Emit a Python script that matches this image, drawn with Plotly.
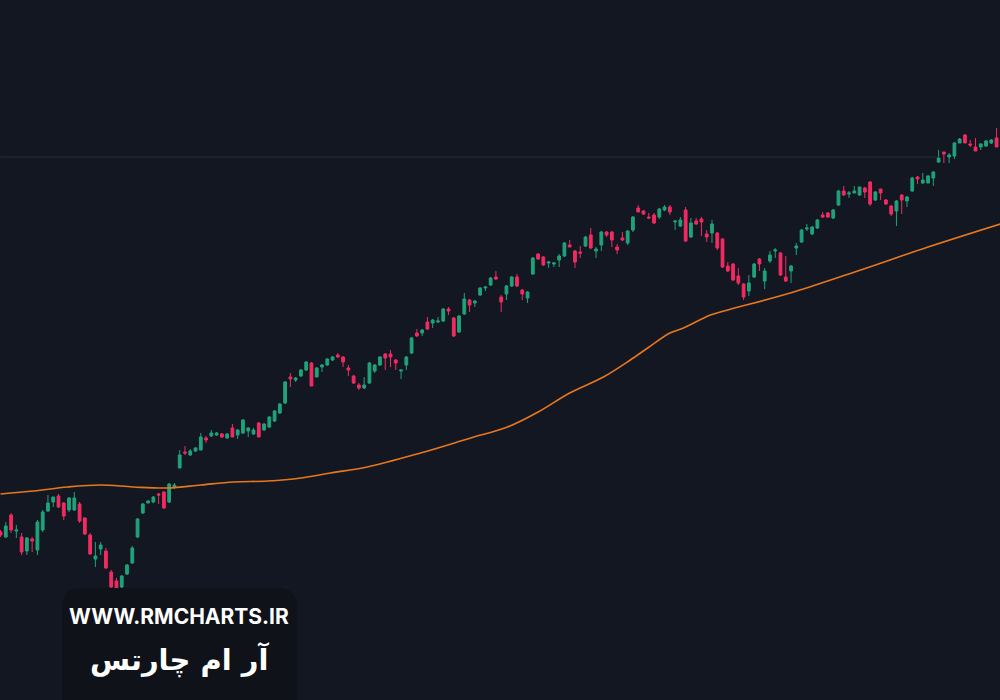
import plotly.graph_objects as go

# ---- data (arbitrary price units) ----
opens = [168,163,185,169,163,149,161,150,170,189,198,204,197,190,190,196,182,165,141,151,
         149,128,119,113,126,137,163,187,197,198,206,208,198,213,232,248,245,249,250,262,
         264,265,266,262,272,265,267,269,266,277,270,273,279,287,297,323,320,324,330,337,
         323,333,335,340,345,343,332,324,315,312,317,329,335,346,346,340,329,335,347,367,
         367,378,377,378,379,391,382,368,386,400,397,405,412,415,423,403,406,414,423,410,
         402,426,446,443,437,436,440,444,455,449,448,454,465,449,455,468,468,453,462,457,
         470,492,489,483,485,483,490,493,478,474,490,463,479,481,466,467,467,461,434,436,
         424,416,409,423,441,419,439,449,447,423,429,452,458,471,466,472,485,487,482,495,
         509,506,507,505,512,518,500,511,500,494,489,505,499,509,523,517,517,522,538,548,
         543,544,557,565,556,553,553,554,557,562]
highs = [170,178,187,175,167,163,163,180,190,205,203,206,198,203,208,198,183,167,158,158,
         152,130,122,125,136,154,182,197,200,204,207,209,217,217,250,254,251,253,267,264,
         270,268,267,267,276,271,281,273,272,278,277,284,290,297,319,327,323,331,339,338,
         333,336,342,344,347,344,335,325,317,323,338,336,344,347,350,341,330,344,363,371,
         371,383,381,383,392,393,383,385,407,401,400,413,414,423,429,405,415,424,426,411,
         409,443,447,444,439,438,446,458,460,450,454,464,472,453,469,469,469,456,468,470,
         484,495,490,487,487,492,495,495,479,483,493,482,482,483,470,480,468,462,438,437,
         432,417,425,437,442,432,449,452,448,444,435,457,471,476,474,481,488,488,491,510,
         514,509,514,513,513,519,509,511,501,495,500,506,504,523,524,527,525,529,550,548,
         547,558,562,566,560,562,557,560,561,572]
lows = [163,162,167,162,145,145,148,145,168,188,193,192,180,188,189,177,165,145,133,145,
        131,111,105,112,125,136,162,186,197,197,196,191,197,211,232,245,244,248,250,257,
        263,264,262,261,263,261,266,263,265,263,269,272,278,286,296,313,318,323,329,314,
        323,328,334,339,342,333,324,316,310,311,316,327,334,330,333,330,321,330,346,363,
        364,370,372,377,378,385,363,367,385,388,393,404,409,414,420,388,400,413,413,400,
        397,425,440,434,432,433,433,443,453,432,442,453,451,442,449,463,453,446,459,455,
        468,488,485,481,476,481,489,485,470,473,458,462,475,464,458,457,450,432,428,419,
        415,400,404,422,429,411,437,442,424,418,417,445,457,469,465,471,482,482,481,494,
        504,502,507,504,502,494,499,500,495,484,474,486,493,508,516,516,517,514,537,537,
        537,541,557,557,553,549,550,553,556,553]
closes = [165,174,170,170,148,162,159,178,188,197,203,193,184,202,202,179,166,146,144,155,
          132,113,111,124,135,152,181,196,199,203,205,192,216,215,245,247,249,252,263,260,
          267,267,263,266,263,270,280,272,270,263,276,283,289,296,318,321,322,330,338,314,
          332,335,341,343,343,338,330,317,312,315,337,335,343,342,343,337,330,343,362,364,
          370,371,380,379,391,389,364,384,401,395,399,412,413,422,421,398,414,423,414,406,
          408,442,441,435,438,437,444,457,453,438,447,463,452,451,468,465,460,450,460,469,
          483,488,486,482,477,491,493,488,479,480,459,477,476,478,463,476,452,433,429,420,
          417,403,417,436,436,429,445,450,425,419,434,454,470,472,473,480,483,483,490,509,
          505,507,509,513,508,496,508,507,496,486,499,500,503,522,521,520,524,528,542,546,
          545,557,561,557,555,549,556,559,560,553]

# 200-period average, read at a few candle positions
ma_index = [0, 6.3, 12.7, 19, 25.2, 31.7, 38, 44.2, 50.7, 57, 62.6, 69.6, 79.7, 89.2,
            96.2, 102, 108, 114.4, 119.5, 122.8, 127, 129.6, 134.7, 138, 150.5, 163.2,
            176, 189.7]
ma_values = [206, 209, 213, 215, 213, 212, 215, 218, 219, 222, 227, 233, 247, 262,
             273, 288, 307, 323, 340, 352, 367, 372, 385, 390, 408, 430, 453, 476]

level_price = 543
level_span = [0, 178]

candle_index = list(range(len(opens)))

BG = "#131722"
UP = "#1fa37a"
DOWN = "#f22b62"

fig = go.Figure()

fig.add_trace(go.Scatter(
    x=level_span, y=[level_price, level_price], mode="lines",
    line=dict(color="#282c3a", width=1), hoverinfo="skip", showlegend=False))

fig.add_trace(go.Scatter(
    x=ma_index, y=ma_values, mode="lines",
    line=dict(color="#e8771c", width=1.6, shape="spline", smoothing=1.0),
    hoverinfo="skip", showlegend=False))

fig.add_trace(go.Candlestick(
    x=candle_index, open=opens, high=highs, low=lows, close=closes,
    increasing=dict(line=dict(color=UP, width=1), fillcolor=UP),
    decreasing=dict(line=dict(color=DOWN, width=1), fillcolor=DOWN),
    whiskerwidth=0, showlegend=False, hoverinfo="skip"))

# watermark box (rounded top corners)
x0, x1, yt, yb = 0.062, 0.297, 0.16, -0.05
rx, ry = 0.02, 0.0286
path = (f"M {x0},{yb} L {x0},{yt-ry} Q {x0},{yt} {x0+rx},{yt} "
        f"L {x1-rx},{yt} Q {x1},{yt} {x1},{yt-ry} L {x1},{yb} Z")
fig.add_shape(type="path", path=path, xref="paper", yref="paper",
              fillcolor="#0f1218", line=dict(width=0), layer="above")

fig.add_annotation(x=0.179, y=1 - 616 / 700, xref="paper", yref="paper",
                   text="WWW.RMCHARTS.IR", showarrow=False,
                   font=dict(family="Inter, Open Sans, sans-serif", size=21,
                             color="#ffffff", weight="bold"),
                   xanchor="center", yanchor="middle")
fig.add_annotation(x=0.179, y=1 - 660 / 700, xref="paper", yref="paper",
                   text="آر ام چارتس", showarrow=False,
                   font=dict(family="DejaVu Sans, sans-serif", size=29,
                             color="#ffffff", weight="bold"),
                   xanchor="center", yanchor="middle")

fig.update_layout(
    width=1000, height=700,
    margin=dict(l=0, r=0, t=0, b=0),
    paper_bgcolor=BG, plot_bgcolor=BG,
    boxgap=0.25,
    xaxis=dict(range=[-0.1, 189.65], visible=False, showgrid=False,
               rangeslider=dict(visible=False), fixedrange=True),
    yaxis=dict(range=[0, 700], visible=False, showgrid=False, fixedrange=True),
    hovermode=False,
)

fig.write_html(
    "out.html",
    config={"displayModeBar": False},
    post_script="document.body.style.margin='0';document.body.style.overflow='hidden';"
                "document.body.style.background='#131722';",
)
